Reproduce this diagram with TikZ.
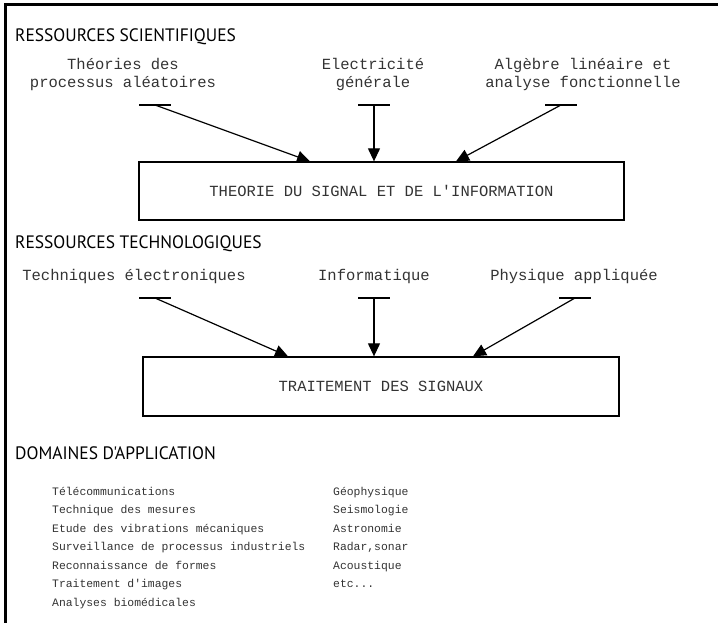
\documentclass[tikz,border=0pt]{standalone}
\usepackage{fontspec}
\setmonofont{Liberation Mono}
\newfontfamily\headfont[FakeStretch=0.97]{PT Sans}
\usetikzlibrary{arrows.meta,calc}

\begin{document}
\begin{tikzpicture}[
  x=1pt, y=-1pt,
  heading/.style={font=\headfont\fontsize{18}{20}\selectfont,
    anchor=base west, inner sep=0pt},
  res/.style={font=\ttfamily\fontsize{15.5}{18}\selectfont, text=black!80,
    align=center, anchor=base, inner sep=0pt},
  block/.style={draw, line width=1.3pt, fill=white,
    font=\ttfamily\fontsize{15.5}{18}\selectfont, text=black!80},
  item/.style={font=\ttfamily\fontsize{11.4}{14}\selectfont, text=black!80,
    anchor=base west, inner sep=0pt},
  tick/.style={line width=1.2pt},
  feed/.style={-{Triangle[length=13pt, width=12pt]}, line width=1.2pt},
]
\useasboundingbox (0,0) rectangle (718,623);

% ================= frame ===========================================
\draw[line width=3pt] (5,623) -- (5,5) -- (718,5);

% ================= scientific resources ============================
\node[heading] (hsci) at (15,42) {RESSOURCES SCIENTIFIQUES};

% base of a two-line label sits on its second line
\node[res] (lsci1) at (123,88) {Théories des\\processus aléatoires};
\node[res] (lsci2) at (373,88) {Electricité\\générale};
\node[res] (lsci3) at (583,88) {Algèbre linéaire et\\analyse fonctionnelle};

\node[block, minimum width=485pt, minimum height=58pt] (theorie) at (381.5,191)
  {THEORIE DU SIGNAL ET DE L'INFORMATION};

% ================= technological resources =========================
\node[heading] (htec) at (15,248) {RESSOURCES TECHNOLOGIQUES};

\node[res] (ltec1) at (134,280) {Techniques électroniques};
\node[res] (ltec2) at (374,280) {Informatique};
\node[res] (ltec3) at (574,280) {Physique appliquée};

\node[block, minimum width=476pt, minimum height=59pt] (traitement) at (381,386.5)
  {TRAITEMENT DES SIGNAUX};

% ================= ticks and arrows ================================
\foreach \n/\x/\y in {sci1/155/105, sci2/374/105, sci3/561/105,
                      tec1/155/298, tec2/374/298, tec3/575/298}
  \coordinate (\n) at (\x,\y);
\foreach \n in {sci1,sci2,sci3,tec1,tec2,tec3}
  \draw[tick] ([xshift=-16pt]\n) -- ([xshift=16pt]\n);

\draw[feed] (sci1) -- (310,0 |- theorie.north);
\draw[feed] (sci2) -- (sci2 |- theorie.north);
\draw[feed] (sci3) -- (456,0 |- theorie.north);

\draw[feed] (tec1) -- (288,0 |- traitement.north);
\draw[feed] (tec2) -- (tec2 |- traitement.north);
\draw[feed] (tec3) -- (473,0 |- traitement.north);

% ================= application fields ==============================
\node[heading] (happ) at (15,459) {DOMAINES D'APPLICATION};

\foreach \t [count=\i] in {Télécommunications, Technique des mesures,
    Etude des vibrations mécaniques, Surveillance de processus industriels,
    Reconnaissance de formes, Traitement d'images, Analyses biomédicales}
  \node[item] (app\i) at (52,{495+18.5*(\i-1)}) {\t};

\foreach \t [count=\i] in {Géophysique, Seismologie, Astronomie,
    {Radar,sonar}, Acoustique, {etc.{}.{}.}}
  \node[item] (dom\i) at (333,{495+18.5*(\i-1)}) {\t};

\end{tikzpicture}
\end{document}
